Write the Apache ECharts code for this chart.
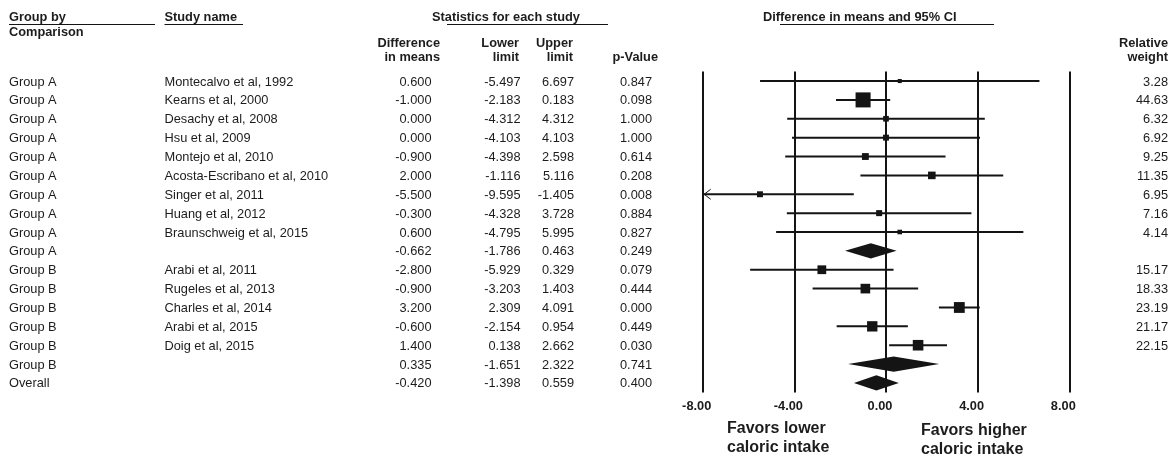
<!DOCTYPE html>
<html>
<head>
<meta charset="utf-8">
<script src="https://cdn.jsdelivr.net/npm/echarts@6/dist/echarts.min.js"></script>
<style>
html,body{margin:0;padding:0;background:#ffffff;}
#chart{width:1171px;height:457px;}
</style>
</head>
<body>
<div id="chart"></div>
<script>
// ---------------- DATA ----------------
const groups = ['Group A','Group A','Group A','Group A','Group A','Group A','Group A','Group A','Group A','Group A',
                'Group B','Group B','Group B','Group B','Group B','Group B','Overall'];
const studies = ['Montecalvo et al, 1992','Kearns et al, 2000','Desachy et al, 2008','Hsu et al, 2009',
                 'Montejo et al, 2010','Acosta-Escribano et al, 2010','Singer et al, 2011','Huang et al, 2012',
                 'Braunschweig et al, 2015','',
                 'Arabi et al, 2011','Rugeles et al, 2013','Charles et al, 2014','Arabi et al, 2015','Doig et al, 2015','',
                 ''];
const diffs   = [0.600,-1.000,0.000,0.000,-0.900,2.000,-5.500,-0.300,0.600,-0.662,-2.800,-0.900,3.200,-0.600,1.400,0.335,-0.420];
const lowers  = [-5.497,-2.183,-4.312,-4.103,-4.398,-1.116,-9.595,-4.328,-4.795,-1.786,-5.929,-3.203,2.309,-2.154,0.138,-1.651,-1.398];
const uppers  = [6.697,0.183,4.312,4.103,2.598,5.116,-1.405,3.728,5.995,0.463,0.329,1.403,4.091,0.954,2.662,2.322,0.559];
const pValues = [0.847,0.098,1.000,1.000,0.614,0.208,0.008,0.884,0.827,0.249,0.079,0.444,0.000,0.449,0.030,0.741,0.400];
const weights = [3.28,44.63,6.32,6.92,9.25,11.35,6.95,7.16,4.14,null,15.17,18.33,23.19,21.17,22.15,null,null];
const xTicks  = [-8,-4,0,4,8];

// ---------------- BUILD ----------------
const FONT = '"Liberation Sans", Arial, Helvetica, sans-serif';
const INK = '#141414';
const TXT = '#1c1c1c';
const FS = 12.8;
const X_MIN = xTicks[0], X_MAX = xTicks[xTicks.length - 1];
const rowIdx = groups.map((g, i) => i);

const studyData = [], summaryData = [], tableData = [];
rowIdx.forEach(i => {
  tableData.push([0, i]);
  if (weights[i] === null) summaryData.push([diffs[i], i, lowers[i], uppers[i]]);
  else studyData.push([diffs[i], i, lowers[i], uppers[i], weights[i]]);
});

function txt(text, x, y, align, bold, size) {
  return {
    type: 'text',
    style: {
      text: text, x: x, y: y, align: align || 'left', verticalAlign: 'middle',
      fill: TXT, fontFamily: FONT, fontSize: size || FS, fontWeight: bold ? 'bold' : 'normal'
    }
  };
}
function uline(x1, x2, y) {
  return { type: 'line', shape: { x1: x1, y1: y, x2: x2, y2: y }, style: { stroke: INK, lineWidth: 1 } };
}

const chart = echarts.init(document.getElementById('chart'), null, { renderer: 'canvas' });

const option = {
  backgroundColor: '#ffffff',
  animation: false,
  grid: { left: 702.7, right: 101.7, top: 71.6, height: 320.8, containLabel: false },
  xAxis: {
    type: 'value', min: X_MIN, max: X_MAX, interval: xTicks[1] - xTicks[0],
    axisLine: { show: false }, axisTick: { show: false },
    splitLine: { show: true, showMinLine: true, showMaxLine: true, lineStyle: { color: INK, width: 2 } },
    axisLabel: {
      margin: 8, color: TXT, fontFamily: FONT, fontWeight: 'bold', fontSize: FS,
      padding: [0, 12, 0, 0],
      formatter: v => v.toFixed(2)
    }
  },
  yAxis: {
    type: 'category', data: rowIdx, inverse: true,
    axisLine: { show: false }, axisTick: { show: false }, axisLabel: { show: false }, splitLine: { show: false }
  },
  series: [
    {
      type: 'custom', name: 'studies', data: studyData, clip: false,
      renderItem: function (params, api) {
        const est = api.value(0), row = api.value(1), lo = api.value(2), hi = api.value(3), w = api.value(4);
        const a = api.coord([Math.max(lo, X_MIN), row]);
        const b = api.coord([Math.min(hi, X_MAX), row]);
        const c = api.coord([est, row]);
        const s = 2.25 * Math.sqrt(w);
        const children = [
          { type: 'line', shape: { x1: a[0], y1: a[1], x2: b[0], y2: b[1] }, style: { stroke: INK, lineWidth: 2 } },
          { type: 'rect', shape: { x: c[0] - s / 2, y: c[1] - s / 2, width: s, height: s }, style: { fill: INK } }
        ];
        if (lo < X_MIN) {
          children.push({ type: 'polyline',
            shape: { points: [[a[0] + 8, a[1] - 5], [a[0] + 1.5, a[1]], [a[0] + 8, a[1] + 5]] },
            style: { stroke: INK, lineWidth: 1, fill: null } });
        }
        return { type: 'group', children: children };
      }
    },
    {
      type: 'custom', name: 'summaries', data: summaryData, clip: false,
      renderItem: function (params, api) {
        const est = api.value(0), row = api.value(1), lo = api.value(2), hi = api.value(3);
        const a = api.coord([lo, row]), b = api.coord([hi, row]), c = api.coord([est, row]);
        const h = 7.6;
        return { type: 'polygon',
          shape: { points: [[a[0], a[1]], [c[0], c[1] - h], [b[0], b[1]], [c[0], c[1] + h]] },
          style: { fill: INK } };
      }
    },
    {
      type: 'custom', name: 'table', data: tableData, clip: false, silent: true,
      renderItem: function (params, api) {
        const i = api.value(1);
        const y = api.coord([0, i])[1] + 1;
        const kids = [
          txt(groups[i], 9, y, 'left'),
          txt(studies[i], 164.5, y, 'left'),
          txt(diffs[i].toFixed(3), 431.5, y, 'right'),
          txt(lowers[i].toFixed(3), 520.5, y, 'right'),
          txt(uppers[i].toFixed(3), 574, y, 'right'),
          txt(pValues[i].toFixed(3), 652, y, 'right')
        ];
        if (weights[i] !== null) kids.push(txt(weights[i].toFixed(2), 1168, y, 'right'));
        return { type: 'group', children: kids };
      }
    }
  ],
  graphic: [
    {
      type: 'group', silent: true,
      children: [
        txt('Group by', 9, 17.5, 'left', true),
        uline(9, 155, 24.5),
        txt('Comparison', 9, 32.5, 'left', true),
        txt('Study name', 164.5, 17.5, 'left', true),
        uline(164.5, 243, 24.5),
        txt('Statistics for each study', 432, 17.5, 'left', true),
        uline(447, 608, 24.5),
        txt('Difference', 440, 43, 'right', true),
        txt('in means', 440, 57.5, 'right', true),
        txt('Lower', 519, 43, 'right', true),
        txt('limit', 519, 57.5, 'right', true),
        txt('Upper', 573, 43, 'right', true),
        txt('limit', 573, 57.5, 'right', true),
        txt('p-Value', 658, 57.5, 'right', true),
        txt('Difference in means and 95% CI', 763, 17.5, 'left', true),
        uline(780, 994, 24.5),
        txt('Relative', 1168, 43, 'right', true),
        txt('weight', 1168, 57.5, 'right', true),
        txt('Favors lower', 727, 428.5, 'left', true, 16),
        txt('caloric intake', 727, 448, 'left', true, 16),
        txt('Favors higher', 921, 430.5, 'left', true, 16),
        txt('caloric intake', 921, 449.5, 'left', true, 16)
      ]
    }
  ]
};
chart.setOption(option);
</script>
</body>
</html>
